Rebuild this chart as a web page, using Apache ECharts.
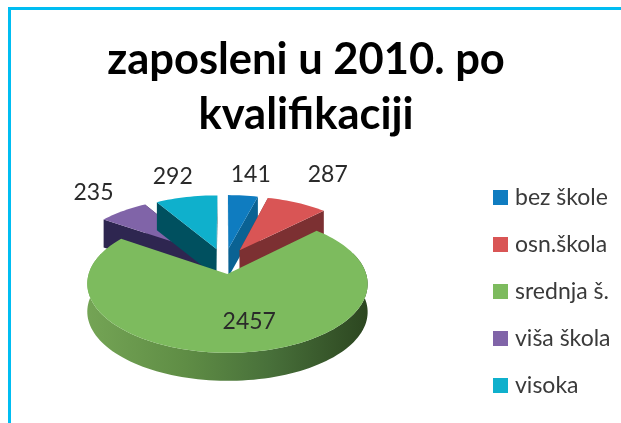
<!DOCTYPE html>
<html><head><meta charset="utf-8">
<style>
html,body{margin:0;padding:0;background:#fff;overflow:hidden}
#c{position:absolute;left:0;top:0;width:621px;height:423px;filter:blur(0.6px)}
#bt{position:absolute;left:8px;top:7px;width:613px;height:2.5px;background:#00bdf2}
#bl{position:absolute;left:8px;top:7px;width:2.5px;height:416px;background:#00bdf2}
</style>
<script src="https://cdn.jsdelivr.net/npm/echarts@6/dist/echarts.min.js"></script>
</head><body><div id="c"></div><div id="bt"></div><div id="bl"></div>
<script>
const titleText = 'zaposleni u 2010. po\nkvalifikaciji';
const categories = ['bez škole','osn.škola','srednja š.','viša škola','visoka'];
const values = [141,287,2457,235,292];
const topColors = ['#0f7cc0','#d95555','#7dbb5e','#8064a8','#0fb0cc'];
const wallColors = ['#0a6293','#7c3032','#4f7a38','#2e2650','#00505f'];

// 3D pie projection
const CX=224.5, CY=261, RX=135, RY=64, DIST=7.3, EXPLODE=0.2, EXPLODE_X=0.23, DEPTH=28;
// label placement: radial factor, dx, dy
const labelTweak = [[1.22,5,-11],[1.25,18,-18],[0.62,13,2],[1.3,-8,-8],[1.22,-8,-11]];

const total = values.reduce((a,b)=>a+b,0);
const rad = d=>d*Math.PI/180;
let acc=0;
const spans = values.map(v=>{const a=acc/total*360; acc+=v; return [a,acc/total*360];});

function project(th,r,mid,z){
  const X=r*Math.sin(rad(th))+EXPLODE_X*Math.sin(rad(mid));
  const Y=-r*Math.cos(rad(th))-EXPLODE*Math.cos(rad(mid));
  const s=DIST/(DIST-Y);
  return [CX+X*s*RX, CY+Y*s*RY+(z||0)];
}
function sliceRenderer(i){
  return function(params,api){
    const [a0,a1]=spans[i]; const mid=(a0+a1)/2;
    const value=api.value(0);
    const arc=[];
    const n=Math.max(4,Math.ceil((a1-a0)/2));
    for(let k=0;k<=n;k++) arc.push(a0+(a1-a0)*k/n);
    const tip=project(0,0,mid), tipB=project(0,0,mid,DEPTH);
    const top=[tip].concat(arc.map(t=>project(t,1,mid)));
    const radial=th=>{
      const p=project(th,1,mid),q=project(th,1,mid,DEPTH);
      return {key:-Math.cos(rad(th)),pts:[tip,p,q,tipB]};
    };
    const w=[radial(a0),radial(a1)];
    w.sort((a,b)=>a.key-b.key);
    const wallFill = i===2 ? {type:'linear',x:0,y:0,x2:1,y2:0,colorStops:[
      {offset:0,color:'#74a455'},{offset:0.35,color:'#5f8d45'},{offset:0.65,color:'#48703a'},{offset:1,color:'#2c4620'}]} : wallColors[i];
    const children=[];
    if(i===2){
      const fr=arc.filter(t=>t>=70&&t<=290);
      const pts=fr.map(t=>project(t,1,mid)).concat(fr.slice().reverse().map(t=>project(t,1,mid,DEPTH)));
      children.push({type:'polygon',shape:{points:pts},style:{fill:wallFill}});
    } else {
      w.forEach(x=>children.push({type:'polygon',shape:{points:x.pts},style:{fill:wallFill}}));
    }
    children.push({type:'polygon',shape:{points:top},style:{fill:topColors[i]}});
    const t=labelTweak[i];
    const lp=project(mid,t[0],mid);
    children.push({type:'text',style:{text:String(value),x:lp[0]+t[1],y:lp[1]+t[2],align:'center',verticalAlign:'middle',fill:'#2a2a2a',font:'23px Lato'}});
    return {type:'group',children};
  };
}
const chart=echarts.init(document.getElementById('c'),null,{renderer:'canvas'});
chart.setOption({
  animation:false,
  backgroundColor:'#fff',
  title:{text:titleText,left:301,top:27,textAlign:'center',
    textStyle:{fontFamily:'Lato',fontSize:43.5,fontWeight:'bold',color:'#000',lineHeight:55}},
  legend:{orient:'vertical',left:488,top:181,itemWidth:15,itemHeight:15,itemGap:24,
    data:categories,selectedMode:false,icon:'rect',
    textStyle:{fontFamily:'Lato',fontSize:23,color:'#3a3a3a',padding:[0,0,0,2]}},
  series:categories.map((name,i)=>({
    type:'custom',name,coordinateSystem:'none',z:i===2?3:2,silent:true,
    itemStyle:{color:topColors[i]},
    renderItem:sliceRenderer(i),
    data:[[values[i]]]
  }))
});
</script></body></html>
